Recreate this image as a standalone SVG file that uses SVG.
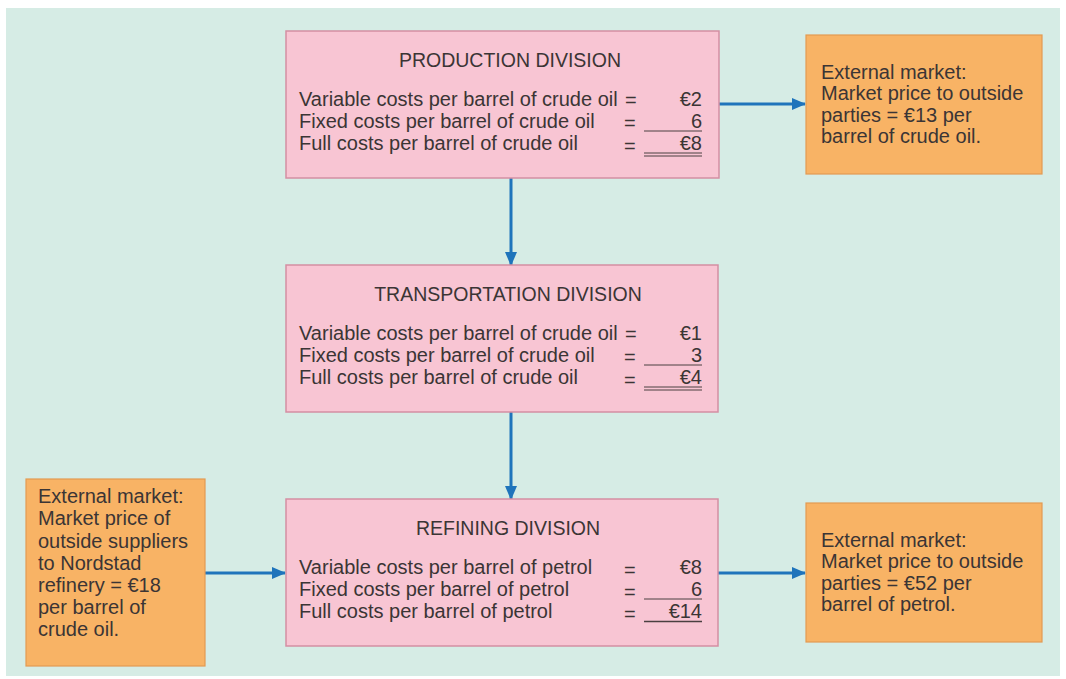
<svg xmlns="http://www.w3.org/2000/svg" width="1066" height="679" viewBox="0 0 1066 679">
<defs>
<marker id="ah" viewBox="0 0 14 12" refX="13" refY="6" markerWidth="14" markerHeight="12" markerUnits="userSpaceOnUse" orient="auto">
<path d="M0,0 L14,6 L0,12 Z" fill="#1f74bb"/>
</marker>
<style>
.bg{fill:#d6ece5}
.div{fill:#f8c5d3;stroke:#d48ea3;stroke-width:1.5}
.ext{fill:#f8b365;stroke:#e39a52;stroke-width:1.2}
text{font-family:"Liberation Sans",Arial,sans-serif;font-size:20px;fill:#3b3535}
.t{text-anchor:middle;font-size:19.5px}
.r{text-anchor:end}
.ul{stroke:#4a4040;stroke-width:1}
.conn{stroke:#1f74bb;stroke-width:3;fill:none;marker-end:url(#ah)}
</style>
</defs>
<rect class="bg" x="6" y="8" width="1054" height="668"/>
<g id="connectors">
<line class="conn" x1="511" y1="178" x2="511" y2="265"/>
<line class="conn" x1="511" y1="412" x2="511" y2="499"/>
<line class="conn" x1="719" y1="104" x2="805" y2="104"/>
<line class="conn" x1="205" y1="573" x2="285" y2="573"/>
<line class="conn" x1="718" y1="573" x2="805" y2="573"/>
</g>
<g id="production">
<rect class="div" x="286" y="31" width="433" height="147"/>
<text class="t" x="510" y="67">PRODUCTION DIVISION</text>
<text x="299" y="106">Variable costs per barrel of crude oil</text>
<text x="625" y="107">=</text>
<text class="r" x="702" y="106">€2</text>
<text x="299" y="128">Fixed costs per barrel of crude oil</text>
<text x="624" y="130">=</text>
<text class="r" x="702" y="128">6</text>
<line class="ul" x1="644" y1="131" x2="702" y2="131"/>
<text x="299" y="150">Full costs per barrel of crude oil</text>
<text x="624" y="153">=</text>
<text class="r" x="702" y="150">€8</text>
<line class="ul" x1="644" y1="153" x2="702" y2="153"/>
<line class="ul" x1="644" y1="156" x2="702" y2="156"/>
</g>
<g id="transportation">
<rect class="div" x="286" y="265" width="432" height="147"/>
<text class="t" x="508" y="301">TRANSPORTATION DIVISION</text>
<text x="299" y="340">Variable costs per barrel of crude oil</text>
<text x="625" y="341">=</text>
<text class="r" x="702" y="340">€1</text>
<text x="299" y="362">Fixed costs per barrel of crude oil</text>
<text x="624" y="364">=</text>
<text class="r" x="702" y="362">3</text>
<line class="ul" x1="644" y1="365" x2="702" y2="365"/>
<text x="299" y="384">Full costs per barrel of crude oil</text>
<text x="624" y="387">=</text>
<text class="r" x="702" y="384">€4</text>
<line class="ul" x1="644" y1="387" x2="702" y2="387"/>
<line class="ul" x1="644" y1="390" x2="702" y2="390"/>
</g>
<g id="refining">
<rect class="div" x="286" y="499" width="432" height="147"/>
<text class="t" x="508" y="535">REFINING DIVISION</text>
<text x="299" y="574">Variable costs per barrel of petrol</text>
<text x="624" y="577">=</text>
<text class="r" x="702" y="574">€8</text>
<text x="299" y="596">Fixed costs per barrel of petrol</text>
<text x="624" y="599">=</text>
<text class="r" x="702" y="596">6</text>
<line class="ul" x1="644" y1="599" x2="702" y2="599"/>
<text x="299" y="618">Full costs per barrel of petrol</text>
<text x="624" y="621">=</text>
<text class="r" x="702" y="618">€14</text>
<line class="ul" x1="644" y1="621.5" x2="702" y2="621.5" style="stroke-width:1.5"/>
</g>
<g id="ext-top">
<rect class="ext" x="806" y="35" width="236" height="139"/>
<text x="821" y="79">External market:</text>
<text x="821" y="100">Market price to outside</text>
<text x="821" y="122">parties = €13 per</text>
<text x="821" y="143">barrel of crude oil.</text>
</g>
<g id="ext-left">
<rect class="ext" x="26" y="479" width="179" height="187"/>
<text x="38" y="503">External market:</text>
<text x="38" y="525">Market price of</text>
<text x="38" y="548">outside suppliers</text>
<text x="38" y="570">to Nordstad</text>
<text x="38" y="592">refinery = €18</text>
<text x="38" y="614">per barrel of</text>
<text x="38" y="636">crude oil.</text>
</g>
<g id="ext-bottom">
<rect class="ext" x="806" y="503" width="236" height="139"/>
<text x="821" y="547">External market:</text>
<text x="821" y="568">Market price to outside</text>
<text x="821" y="590">parties = €52 per</text>
<text x="821" y="611">barrel of petrol.</text>
</g>
</svg>
